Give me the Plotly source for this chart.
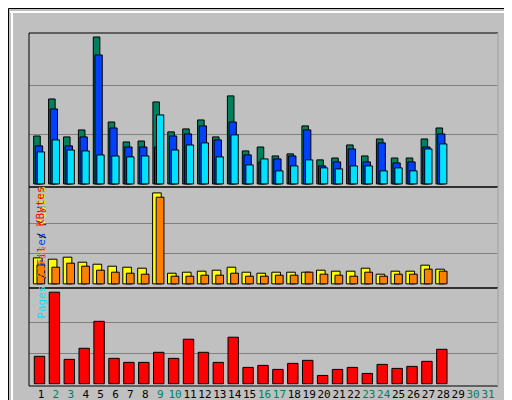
import plotly.graph_objects as go

days = list(range(1, 32))
hits = [2570,4556,2520,2895,7880,3320,2250,2300,4395,2790,2950,3430,2520,4720,1770,1980,1500,1610,3110,1290,1390,2090,1500,2410,1390,1390,2410,3000]
files = [2040,4020,2040,2520,6915,3000,1980,1980,1980,2570,2680,3110,2360,3320,1555,1180,1340,1500,2895,965,1180,1875,1180,2200,1125,1180,1980,2680]
pages = [1715,2360,1820,1770,1555,1500,1450,1500,3700,1820,2090,2200,1450,2630,1020,1340,700,965,1290,860,805,965,965,700,860,700,1875,2145]
visits = [664,630,681,553,502,451,425,400,2322,272,298,324,349,425,298,272,298,298,298,349,324,324,400,247,324,324,477,375]
sites = [485,425,528,451,349,298,272,247,2212,196,196,221,221,272,196,196,221,221,298,247,221,196,298,196,247,247,375,324]
kbytes = [136000,454816,121000,176000,310000,126000,106000,106000,156000,126000,221000,156000,106000,231000,81000,91000,71000,101000,116000,41000,71000,81000,51000,96000,76000,86000,111000,171000]
weekend = {2,3,9,10,16,17,23,24,30,31}
tick_labels = [f"<span style='color:{'#00805C' if d in weekend else '#000000'}'>{d}</span>" for d in days]

d28 = days[:28]
line = dict(color="black", width=1)
fig = go.Figure()
def bar(y, color, off, w, ya):
    fig.add_trace(go.Bar(x=d28, y=y, marker=dict(color=color, line=line), offset=off, width=w, yaxis=ya, xaxis="x"))
bar(hits, "#00805C", -0.49, 0.44, "y")
bar(files, "#0040FF", -0.38, 0.49, "y")
bar(pages, "#00E0FF", -0.25, 0.49, "y")
bar(visits, "#FFFF00", -0.51, 0.58, "y2")
bar(sites, "#FF8000", -0.27, 0.52, "y2")
bar(kbytes, "#FF0000", -0.45, 0.7, "y3")

def px(x): return (x - 21) / 469
def py(y): return (378 - y) / 353

mono = "DejaVu Sans Mono"
ycommon = dict(showticklabels=False, gridcolor="#808080", gridwidth=1, zeroline=False, showline=False, fixedrange=True, automargin=False)
fig.update_layout(
    width=512, height=400, margin=dict(l=21, r=22, t=25, b=22, autoexpand=False),
    paper_bgcolor="#C0C0C0", plot_bgcolor="#C0C0C0", showlegend=False, barmode="overlay",
    xaxis=dict(range=[0.195, 31.67], tickvals=days, ticktext=tick_labels, showgrid=False, zeroline=False,
               anchor="y3", tickfont=dict(family=mono, size=11), ticks="", tickangle=0, automargin=False),
    yaxis=dict(domain=[0.564, 1], range=[-161, 8094], tickvals=[7880/3, 7880*2/3], **ycommon),
    yaxis2=dict(domain=[0.278, 0.564], range=[-102, 2475], tickvals=[2322/3, 2322*2/3], anchor="x", **ycommon),
    yaxis3=dict(domain=[0, 0.278], range=[-11445, 476213], tickvals=[454816/3, 454816*2/3], anchor="x", **ycommon),
)

shapes = []
shapes.append(dict(type="rect", xref="paper", yref="paper", x0=px(505), x1=px(511), y0=py(399), y1=py(6), fillcolor="#808080", line=dict(width=0)))
shapes.append(dict(type="rect", xref="paper", yref="paper", x0=px(6), x1=px(511), y0=py(399), y1=py(393), fillcolor="#808080", line=dict(width=0)))
shapes.append(dict(type="rect", xref="paper", yref="paper", x0=px(0.5), x1=px(511.5), y0=py(399.5), y1=py(0.5), line=dict(color="black", width=1)))
shapes.append(dict(type="line", xref="paper", yref="paper", x0=px(2), x1=px(505), y0=py(4), y1=py(4), line=dict(color="white", width=2)))
shapes.append(dict(type="line", xref="paper", yref="paper", x0=px(4), x1=px(4), y0=py(4), y1=py(393), line=dict(color="white", width=2)))
for top, bot in [(25, 179), (179, 280), (280, 378)]:
    shapes.append(dict(type="rect", xref="paper", yref="paper", x0=0, x1=1, y0=py(bot), y1=py(top), line=dict(color="black", width=1)))
    shapes.append(dict(type="line", xref="paper", yref="paper", x0=1, x1=1, y0=py(bot), y1=py(top), line=dict(color="white", width=1)))
fig.update_layout(shapes=shapes)

def side(text, x, y):
    return dict(text=text, x=px(x), y=py(y), textangle=-90, xanchor="center", yanchor="top",
                font=dict(family=mono, size=11, color="black"), showarrow=False)
ann = [
    dict(text="<b>Daily usage for February 2019</b>", x=px(19), y=py(16), xanchor="left", yanchor="middle",
         font=dict(family=mono, size=12, color="#0000FF"), showarrow=False),
    side("7880", 13, 28), side("2322", 13, 183), side("454816", 13, 283),
    side("<span style='color:#00E0FF'>Pages</span> / <span style='color:#0040FF'>Files</span> / <span style='color:#00805C'>Hits</span>", 499, 28),
    side("<span style='color:#FF8000'>Sites</span> / <span style='color:#FFFF00'>Visits</span>", 499, 198),
    side("<span style='color:#FF0000'>KBytes</span>", 499, 340),
]
fig.update_layout(annotations=ann)
fig.write_html("out.html")
